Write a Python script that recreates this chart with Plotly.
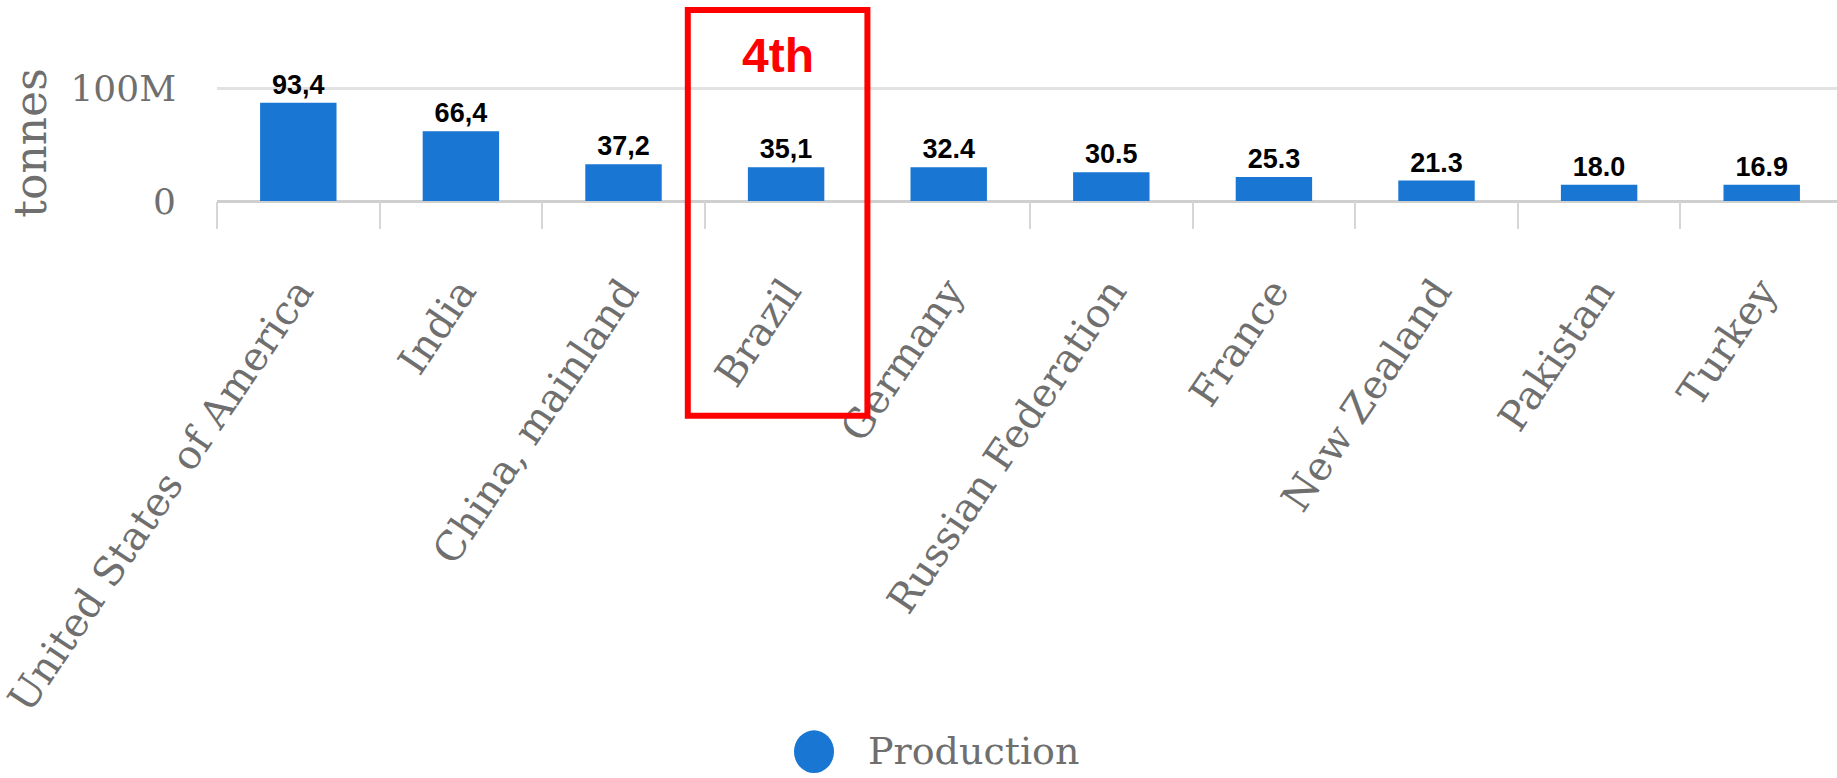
import plotly.graph_objects as go

countries = ["United States of America", "India", "China, mainland", "Brazil", "Germany",
             "Russian Federation", "France", "New Zealand", "Pakistan", "Turkey"]
production = [87.2e6, 62.0e6, 32.6e6, 30.0e6, 30.0e6, 25.6e6, 21.2e6, 18.2e6, 14.4e6, 14.4e6]
value_labels = ["93,4", "66,4", "37,2", "35,1", "32.4", "30.5", "25.3", "21.3", "18.0", "16.9"]
highlight = "Brazil"
highlight_text = "4th"
series_name = "Production"

BLUE = "#1976d2"
GRAY = "#6f6f6f"
SERIF = "DejaVu Serif"

W, H = 1837, 778
YMAX = 1.03e8
ML, MB = 217, 576.5
plot_h = 113.5 * YMAX / 1e8
MT = H - MB - plot_h

fig = go.Figure()
fig.add_trace(go.Bar(
    x=countries, y=production, name=series_name,
    marker=dict(color=BLUE, line=dict(width=0)),
    width=0.47,
    text=value_labels, textposition="outside", cliponaxis=False,
    constraintext="none",
    textfont=dict(family="Liberation Sans", size=27, color="black", weight="bold"),
    showlegend=False,
))

hi = countries.index(highlight)
px_per_cat = (W - ML) / 9.963
box_x0 = hi - 0.5 - 17 / px_per_cat
box_x1 = hi + 0.5


def py(pix):
    return (H - MB - pix) / plot_h


def fx(pix):
    return (pix - ML) / (W - ML)


fig.add_shape(type="rect", xref="x", yref="paper",
              x0=box_x0, x1=box_x1, y0=py(418), y1=py(9),
              line=dict(color="#ff0000", width=6), layer="above")
fig.add_annotation(x=(box_x0 + box_x1) / 2, y=py(55), xref="x", yref="paper",
                   text=highlight_text, showarrow=False, yanchor="middle", xanchor="center",
                   font=dict(family="Liberation Sans", size=48, color="#ff0000", weight="bold"))

# legend (circle marker + label)
fig.add_shape(type="circle", xref="paper", yref="paper",
              x0=fx(794), x1=fx(834), y0=py(778), y1=py(735),
              fillcolor=BLUE, line=dict(width=0))
fig.add_annotation(x=fx(866), y=py(756), xref="paper", yref="paper",
                   text=series_name, showarrow=False, xanchor="left", yanchor="middle",
                   font=dict(family=SERIF, size=38, color=GRAY))

fig.update_layout(
    width=W, height=H,
    margin=dict(l=ML, r=0, t=MT, b=MB, autoexpand=False),
    paper_bgcolor="white", plot_bgcolor="white",
    bargap=0.53,
    showlegend=False,
    xaxis=dict(
        range=[-0.5, 9.463], tickangle=-56,
        ticks="outside", tickson="boundaries", ticklen=27, tickwidth=2, tickcolor="#d6d6d6",
        showgrid=False, showline=False, zeroline=False,
        tickfont=dict(family=SERIF, size=40, color=GRAY),
        ticklabelstandoff=58,
    ),
    yaxis=dict(
        range=[0, YMAX], tickvals=[0, 1e8], ticktext=["0", "100M"],
        showgrid=True, gridcolor="#e2e2e2", gridwidth=3,
        zeroline=True, zerolinecolor="#cfcfcf", zerolinewidth=3,
        showline=False, ticks="",
        tickfont=dict(family=SERIF, size=36, color=GRAY),
        ticklabelstandoff=40,
        title=dict(text="tonnes", font=dict(family=SERIF, size=44, color=GRAY), standoff=10),
    ),
)

fig.write_html("out.html", config={"displayModeBar": False},
               post_script="document.body.style.margin='0';")
